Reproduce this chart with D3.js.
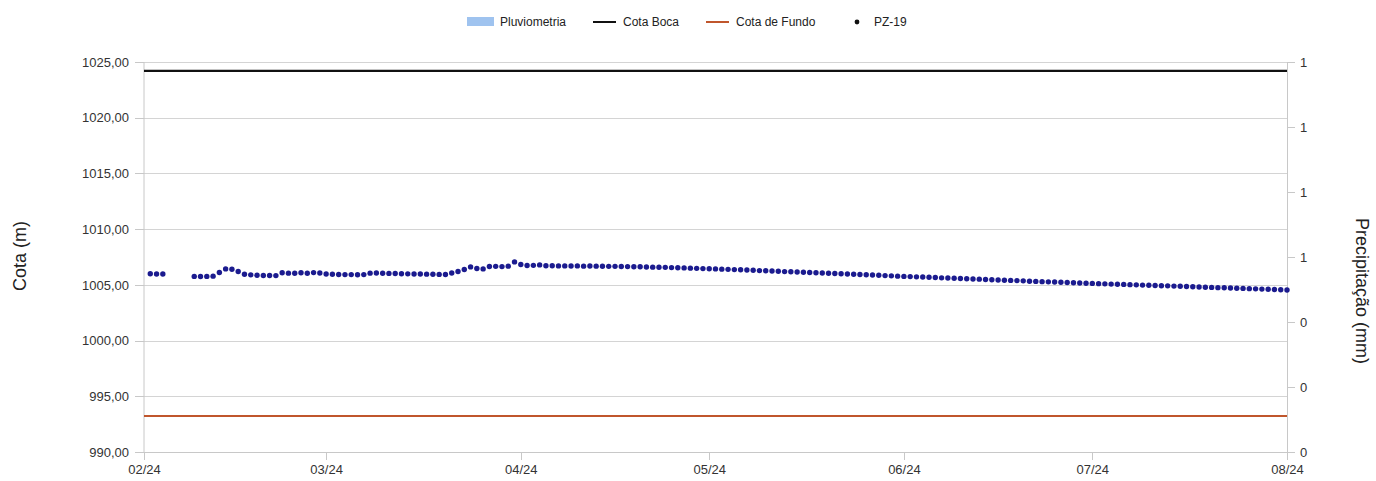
<!DOCTYPE html>
<html lang="pt">
<head>
<meta charset="UTF-8">
<title>PZ-19</title>
<script src="https://cdn.jsdelivr.net/npm/d3@7"></script>
<style>
    body{ margin:0; background:#fff; }
    svg{ font-family: "Liberation Sans", Arial, sans-serif; }
    .axis path,.axis line{ fill:none; stroke:#c8c8c8; shape-rendering:crispEdges; }
    .axis text{ font-size:13px; fill:#333; }
    .grid line{ stroke:#d4d4d4; shape-rendering:crispEdges; }
    .grid path{ display:none; }
</style>
</head>
<body>
<script>
    // dados
    var startDate = "2024-02-01";
    var xTickLabels = ["02/24","03/24","04/24","05/24","06/24","07/24","08/24"];
    var yLeftTicks = [990, 995, 1000, 1005, 1010, 1015, 1020, 1025];
    var yRightTicks = [0, 0.2, 0.4, 0.6, 0.8, 1.0, 1.2];
    var cotaBoca = 1024.2;
    var cotaFundo = 993.23;
    var pluviometria = [];   // sem registos no período
    // PZ-19, um valor por dia a partir de 02/02 (null = sem leitura)
    var pz19 = [
        1006.00,1005.97,1005.97,null,null,null,null,
        1005.76,1005.75,1005.76,1005.78,1006.11,1006.43,1006.40,1006.20,
        1005.95,1005.90,1005.86,1005.84,1005.84,1005.83,
        1006.08,1006.05,1006.04,1006.08,1006.04,1006.10,1006.06,
        1005.98,1005.95,1005.93,1005.92,1005.92,1005.91,1005.92,
        1006.05,1006.07,1006.04,1006.03,1006.02,1006.00,1005.99,1005.98,1005.97,1005.96,1005.95,1005.94,1005.93,
        1006.07,1006.20,1006.38,1006.61,1006.47,1006.43,1006.65,1006.66,1006.64,1006.68,1007.06,1006.83,
        1006.74,1006.75,1006.79,1006.72,1006.71,1006.70,1006.70,1006.69,1006.70,1006.68,1006.69,1006.68,1006.67,
        1006.66,1006.66,1006.65,1006.64,1006.63,1006.62,1006.60,1006.59,1006.58,1006.57,1006.55,1006.54,1006.52,1006.50,1006.48,
        1006.46,1006.44,1006.43,1006.41,1006.39,1006.37,1006.35,1006.33,1006.31,1006.28,1006.26,1006.24,1006.22,1006.19,1006.17,
        1006.15,1006.13,1006.11,1006.09,1006.07,1006.04,1006.02,1006.00,1005.98,1005.95,1005.93,1005.91,1005.88,1005.86,1005.83,
        1005.81,1005.78,1005.76,
        1005.74,1005.72,1005.70,1005.68,1005.66,1005.63,1005.61,1005.59,1005.57,1005.55,1005.53,1005.51,1005.48,1005.46,1005.44,
        1005.42,1005.40,1005.38,1005.36,1005.33,1005.31,1005.29,1005.27,1005.25,1005.23,1005.21,1005.19,1005.17,1005.15,1005.13,
        1005.11,1005.09,1005.07,1005.06,1005.04,1005.02,1005.00,1004.98,1004.96,1004.94,1004.92,1004.91,1004.89,1004.87,1004.85,
        1004.83,1004.81,1004.79,1004.77,1004.75,1004.74,1004.72,1004.70,1004.68,1004.66,1004.64,1004.62,1004.60,1004.58,1004.56,
        1004.54
    ];

    var width = 1376, height = 481;
    var padding = {left:144, right:89, top:62, bottom:29};
    var innerW = width - padding.left - padding.right;
    var innerH = height - padding.top - padding.bottom;

    var svg = d3.select("body").append("svg")
        .attr("width", width).attr("height", height);

    var parse = d3.timeParse("%Y-%m-%d");
    var t0 = parse(startDate);
    var tickDates = xTickLabels.map(function(d, i){ return d3.timeMonth.offset(t0, i); });

    var xScale = d3.scaleTime()
        .domain([tickDates[0], tickDates[tickDates.length - 1]])
        .range([0, innerW]);
    var yScale = d3.scaleLinear().domain([990, 1025]).range([innerH, 0]);
    var y2Scale = d3.scaleLinear().domain([0, 1.2]).range([innerH, 0]);

    var g = svg.append("g")
        .attr("transform", "translate(" + padding.left + "," + padding.top + ")");

    // grelha
    g.append("g").attr("class", "grid")
        .call(d3.axisLeft(yScale).tickValues(yLeftTicks).tickSize(-innerW).tickFormat(""));

    // eixos
    var fmtPt = d3.formatLocale({decimal:",", thousands:".", grouping:[3], currency:["R$",""]});
    g.append("g").attr("class", "axis")
        .call(d3.axisLeft(yScale).tickValues(yLeftTicks).tickSize(9).tickPadding(6)
            .tickFormat(fmtPt.format(".2f")))
        .select(".domain").remove();
    g.append("line").attr("class", "axis")
        .attr("x1", 0).attr("x2", 0).attr("y1", 0).attr("y2", innerH)
        .attr("stroke", "#c8c8c8");

    g.append("g").attr("class", "axis")
        .attr("transform", "translate(" + innerW + ",0)")
        .call(d3.axisRight(y2Scale).tickValues(yRightTicks).tickSize(8).tickPadding(5)
            .tickFormat(d3.format(".0f")))
        .select(".domain").attr("d", "M0,0V" + innerH);

    var xAxis = g.append("g").attr("class", "axis")
        .attr("transform", "translate(0," + innerH + ")")
        .call(d3.axisBottom(xScale).tickValues(tickDates).tickSize(8).tickPadding(5)
            .tickFormat(function(d, i){ return xTickLabels[i]; }));
    xAxis.select(".domain").attr("d", "M0,0H" + innerW);

    // pluviometria (barras)
    g.selectAll(".pluv").data(pluviometria).enter().append("rect")
        .attr("class", "pluv")
        .attr("x", function(d){ return xScale(parse(d.date)) - 2; })
        .attr("width", 4)
        .attr("y", function(d){ return y2Scale(d.value); })
        .attr("height", function(d){ return innerH - y2Scale(d.value); })
        .attr("fill", "#9fc3ef");

    // cotas
    g.append("line")
        .attr("x1", 0).attr("x2", innerW)
        .attr("y1", yScale(cotaBoca)).attr("y2", yScale(cotaBoca))
        .attr("stroke", "#111").attr("stroke-width", 2.2);
    g.append("line")
        .attr("x1", 0).attr("x2", innerW)
        .attr("y1", yScale(cotaFundo)).attr("y2", yScale(cotaFundo))
        .attr("stroke", "#c0562c").attr("stroke-width", 2);

    // PZ-19
    var pts = pz19.map(function(v, i){
        return {date: d3.timeDay.offset(t0, i + 1), value: v};
    }).filter(function(d){ return d.value !== null; });

    g.selectAll(".pz").data(pts).enter().append("circle")
        .attr("class", "pz")
        .attr("cx", function(d){ return xScale(d.date); })
        .attr("cy", function(d){ return yScale(d.value); })
        .attr("r", 2.7)
        .attr("fill", "#1b1b8f");

    // títulos dos eixos
    svg.append("text")
        .attr("transform", "translate(26,256) rotate(-90)")
        .attr("text-anchor", "middle")
        .attr("font-size", 18).attr("fill", "#222")
        .text("Cota (m)");
    svg.append("text")
        .attr("transform", "translate(1356,291) rotate(90)")
        .attr("text-anchor", "middle")
        .attr("font-size", 18).attr("fill", "#222")
        .text("Precipitação (mm)");

    // legenda
    var leg = svg.append("g").attr("font-size", 12).attr("fill", "#222");
    leg.append("rect").attr("x", 467).attr("y", 17).attr("width", 27).attr("height", 9).attr("fill", "#9fc3ef");
    leg.append("text").attr("x", 500).attr("y", 26).text("Pluviometria");
    leg.append("line").attr("x1", 593).attr("x2", 616).attr("y1", 22).attr("y2", 22).attr("stroke", "#111").attr("stroke-width", 2);
    leg.append("text").attr("x", 623).attr("y", 26).text("Cota Boca");
    leg.append("line").attr("x1", 706).attr("x2", 729).attr("y1", 22).attr("y2", 22).attr("stroke", "#c0562c").attr("stroke-width", 2);
    leg.append("text").attr("x", 736).attr("y", 26).text("Cota de Fundo");
    leg.append("circle").attr("cx", 857).attr("cy", 22).attr("r", 2.4).attr("fill", "#111");
    leg.append("text").attr("x", 874).attr("y", 26).text("PZ-19");
</script>
</body>
</html>
